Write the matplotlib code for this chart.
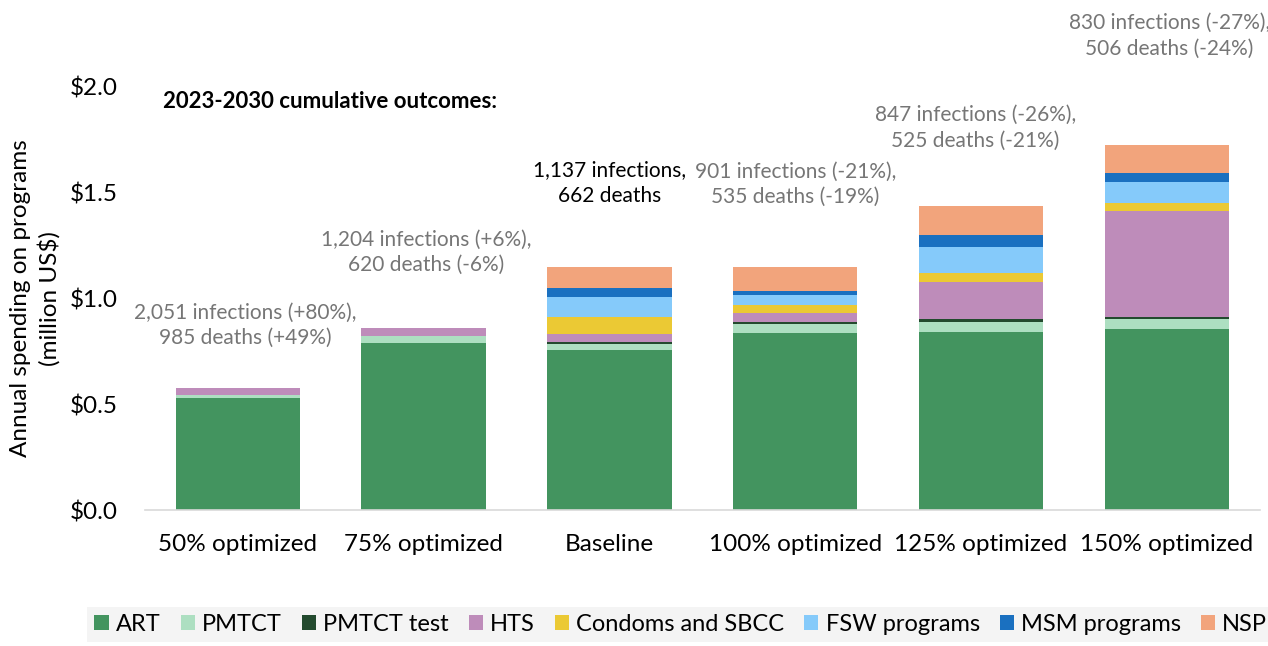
import matplotlib.pyplot as plt
import numpy as np

plt.rcParams['font.family'] = ['Lato', 'DejaVu Sans']

scenarios = ["50% optimized", "75% optimized", "Baseline", "100% optimized",
             "125% optimized", "150% optimized"]
programs = ["ART", "PMTCT", "PMTCT test", "HTS", "Condoms and SBCC",
            "FSW programs", "MSM programs", "NSP"]

# spending per program, million US$ (one list per program, one value per scenario)
art = [0.530, 0.790, 0.757, 0.838, 0.843, 0.857]
pmtct = [0.015, 0.033, 0.030, 0.041, 0.046, 0.046]
pmtct_test = [0.000, 0.000, 0.007, 0.011, 0.013, 0.008]
hts = [0.030, 0.038, 0.040, 0.040, 0.175, 0.501]
condoms = [0.000, 0.000, 0.076, 0.039, 0.043, 0.041]
fsw = [0.000, 0.000, 0.095, 0.046, 0.121, 0.098]
msm = [0.000, 0.000, 0.045, 0.022, 0.061, 0.044]
nsp = [0.000, 0.000, 0.100, 0.113, 0.135, 0.131]

outcomes = ["2,051 infections (+80%),\n985 deaths (+49%)",
            "1,204 infections (+6%),\n620 deaths (-6%)",
            "1,137 infections,\n662 deaths",
            "901 infections (-21%),\n535 deaths (-19%)",
            "847 infections (-26%),\n525 deaths (-21%)",
            "830 infections (-27%),\n506 deaths (-24%)"]

colors = ["#43945F", "#ADDFC1", "#234A2E", "#BE8CBA", "#EBC934",
          "#85CAFA", "#1A70C0", "#F2A47C"]

series = [art, pmtct, pmtct_test, hts, condoms, fsw, msm, nsp]

fig = plt.figure(figsize=(12.68, 6.46), dpi=100)
ax = fig.add_axes([0.1144, 0.2105, 0.879, 0.655])

x = np.arange(len(scenarios))
bottom = np.zeros(len(scenarios))
for name, vals, c in zip(programs, series, colors):
    ax.bar(x, vals, 0.67, bottom=bottom, color=c, label=name)
    bottom += np.array(vals)

# annotation offsets above bar tops (points)
offsets = [29, 38, 44, 43, 40, 62]
xshift = [5, 2, 0, 0, -4, 2]
for i, txt in enumerate(outcomes):
    col = "black" if scenarios[i] == "Baseline" else "#767676"
    ax.annotate(txt, xy=(x[i], bottom[i]), xytext=(xshift[i], offsets[i]),
                textcoords="offset points", ha="center", va="bottom",
                fontsize=15, color=col, linespacing=1.35, annotation_clip=False)

ax.text(0.016, 0.99, "2023-2030 cumulative outcomes:", transform=ax.transAxes,
        fontsize=16, fontweight="bold", va="top")

ax.set_ylim(0, 2.0)
ax.set_xlim(-0.5, len(scenarios) - 0.5)
ax.set_yticks([0, 0.5, 1.0, 1.5, 2.0])
ax.set_yticklabels(["$0.0", "$0.5", "$1.0", "$1.5", "$2.0"], fontsize=17.5)
ax.set_xticks(x)
ax.set_xticklabels(scenarios, fontsize=17.5)
ax.tick_params(axis="both", length=0)
ax.tick_params(axis="x", pad=17)
ax.tick_params(axis="y", pad=20)
ax.set_ylabel("Annual spending on programs\n(million US$)", fontsize=17.5, labelpad=6,
              linespacing=1.35)
for s in ["top", "right", "left"]:
    ax.spines[s].set_visible(False)
ax.spines["bottom"].set_color("#D9D9D9")
ax.spines["bottom"].set_linewidth(1.2)

leg = fig.legend(loc="center", bbox_to_anchor=(0.537, 0.033), ncol=8,
                 fontsize=17, frameon=True, fancybox=False,
                 handlelength=0.6, handleheight=0.6, handletextpad=0.3,
                 columnspacing=0.85, borderpad=0.3)
leg.get_frame().set_facecolor("#F2F2F2")
leg.get_frame().set_edgecolor("none")

fig.savefig("out.png", dpi=100)
